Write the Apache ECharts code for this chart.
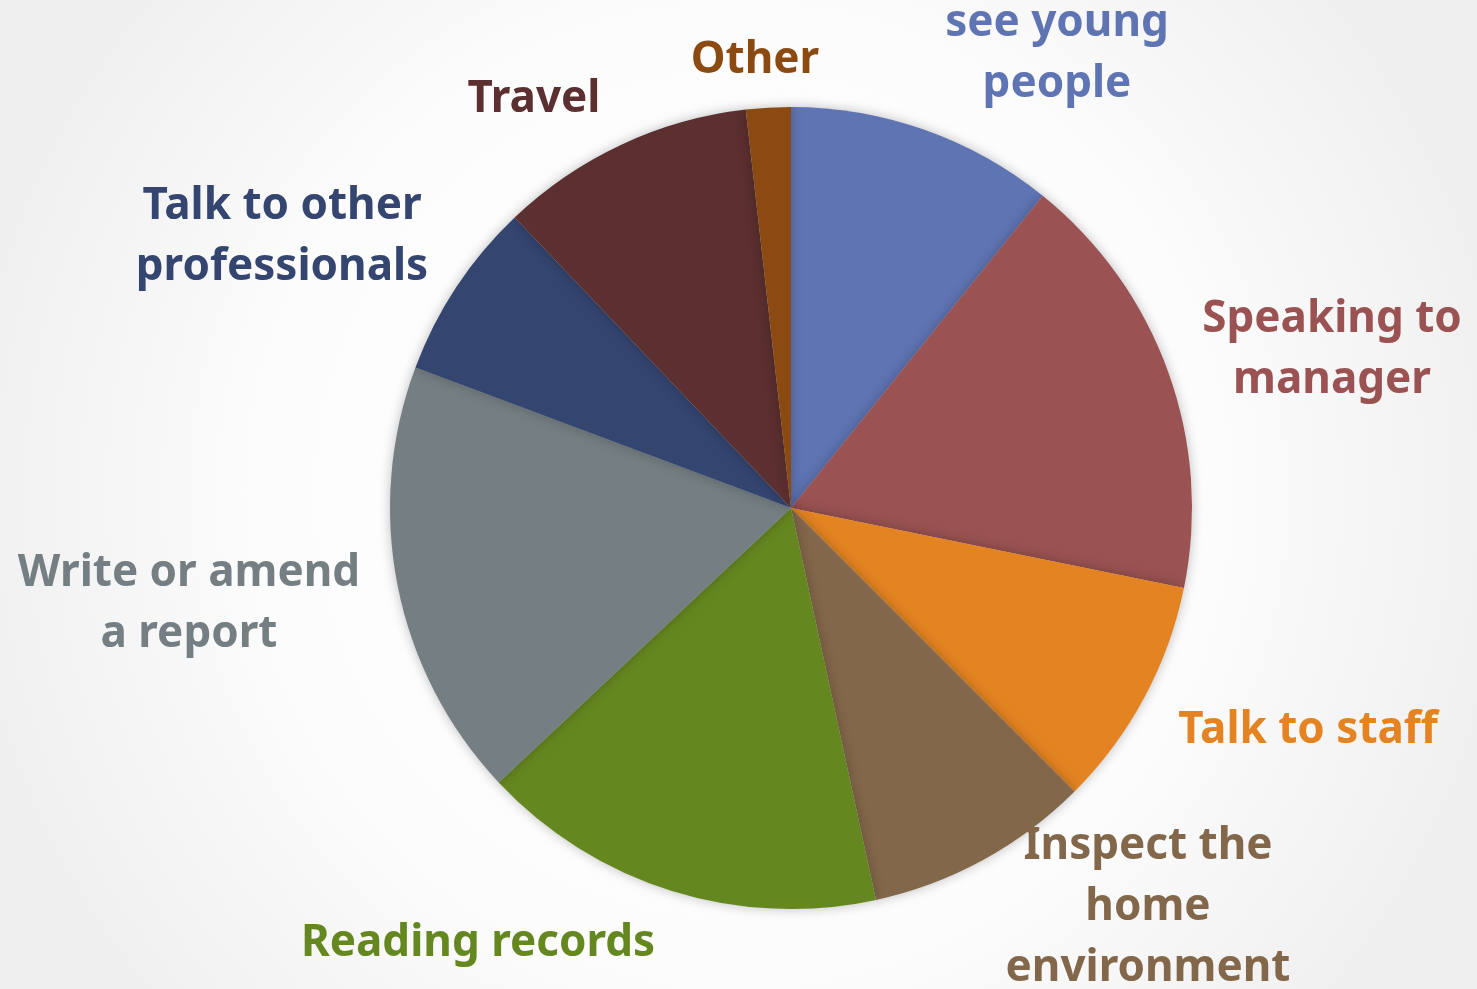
<!DOCTYPE html>
<html><head><meta charset="utf-8">
<script src="https://cdn.jsdelivr.net/npm/echarts@6/dist/echarts.min.js"></script>
<style>html,body{margin:0;padding:0;}#c{width:1477px;height:989px;}</style>
</head><body><div id="c"></div>
<script>
const categories = ["see young\npeople", "Speaking to\nmanager", "Talk to staff", "Inspect the\nhome\nenvironment", "Reading records", "Write or amend\na report", "Talk to other\nprofessionals", "Travel", "Other"];
const values = [10.8, 17.4, 9.3, 9.1, 16.4, 17.7, 7.2, 10.3, 1.8];
const colors = ["#5f74b3", "#9a5252", "#e38322", "#83674a", "#658720", "#757f83", "#344570", "#5c2f30", "#8b4a12"];
const labelPos = [[1057, 54], [1332, 350], [1308, 730], [1148, 907], [478, 943], [189, 604], [282, 237], [534, 99], [755, 60]];

const chart = echarts.init(document.getElementById('c'));
chart.setOption({
  backgroundColor: {type: 'radial', x: 0.5, y: 0.5, r: 0.8,
    colorStops: [{offset: 0, color: '#ffffff'}, {offset: 0.6, color: '#fcfcfc'}, {offset: 1, color: '#efefef'}]},
  animation: false,
  series: [{
    type: 'pie',
    center: [791, 508],
    radius: 401,
    startAngle: 90,
    clockwise: true,
    data: categories.map((n, i) => ({name: n, value: values[i], itemStyle: {color: colors[i]}, label: {color: colors[i]}})),
    itemStyle: {borderWidth: 0, shadowBlur: 12, shadowColor: 'rgba(0,0,0,0.25)'},
    label: {show: true, position: 'outside', formatter: '{b}', fontFamily: 'Noto Sans', fontWeight: 'bold', fontSize: 44, lineHeight: 61, align: 'center', overflow: 'none', width: 400},
    labelLine: {show: false},
    labelLayout: function (p) {
      const pos = labelPos[p.dataIndex];
      return {x: pos[0], y: pos[1], align: 'center', verticalAlign: 'middle'};
    }
  }]
});
</script></body></html>
